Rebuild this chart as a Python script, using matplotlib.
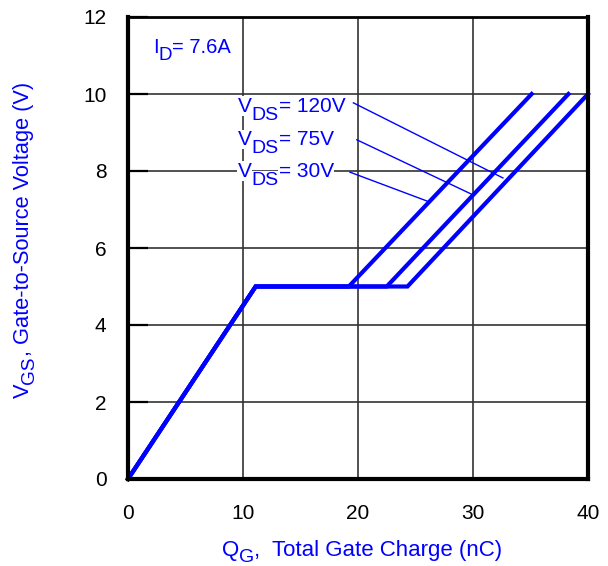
import matplotlib
matplotlib.use("Agg")
import matplotlib.pyplot as plt
from matplotlib.transforms import IdentityTransform
import math

plt.rcParams["font.family"] = "Liberation Sans"

# gate charge curves: (Qg, Vgs) corner points per Vds
qg_120 = [0, 11.1, 19.2, 35.1]
vgs_120 = [0, 5, 5, 10]
qg_75 = [0, 11.1, 22.5, 38.3]
vgs_75 = [0, 5, 5, 10]
qg_30 = [0, 11.1, 24.3, 40.0]
vgs_30 = [0, 5, 5, 10]

labels = ["120V", "75V", "30V"]
label_pos = [(9.55, 9.54), (9.55, 8.675), (9.55, 7.85)]
leader_start = [(19.6, 9.77), (19.9, 8.81), (19.3, 7.97)]
leader_end = [(32.6, 7.82), (30.0, 7.38), (26.0, 7.22)]

xticks = [0, 10, 20, 30, 40]
yticks = [0, 2, 4, 6, 8, 10, 12]

blue = "#0000ff"


def rich_text(fig, x, y, pieces, rotation=0, color=blue, bg=False):
    # pieces: (text, fontsize, drop in px below baseline); x, y in display px
    renderer = fig.canvas.get_renderer()
    a = math.radians(rotation)
    ux, uy = math.cos(a), math.sin(a)
    dx, dy = math.sin(a), -math.cos(a)
    pos = 0.0
    for s, size, drop in pieces:
        px = x + ux * pos + dx * drop
        py = y + uy * pos + dy * drop
        kw = {}
        if bg:
            kw["bbox"] = dict(facecolor="white", edgecolor="none", pad=0.3)
        fig.text(px, py, s, transform=IdentityTransform(), fontsize=size,
                 color=color, ha="left", va="baseline", rotation=rotation,
                 rotation_mode="anchor", zorder=5, **kw)
        probe = fig.text(0, 0, s, transform=IdentityTransform(), fontsize=size)
        pos += probe.get_window_extent(renderer).width
        probe.remove()


fig = plt.figure(figsize=(6.08, 5.66), dpi=100)
ax = fig.add_axes([128 / 608, 87 / 566, 460 / 608, 462 / 566])

for q, v in [(qg_120, vgs_120), (qg_75, vgs_75), (qg_30, vgs_30)]:
    ax.plot(q, v, color=blue, lw=3, solid_joinstyle="miter", zorder=4, clip_on=False)

for (sx, sy), (ex, ey) in zip(leader_start, leader_end):
    ax.plot([sx, ex], [sy, ey], color=blue, lw=1, zorder=3)

ax.set_xlim(0, 40)
ax.set_ylim(0, 12)
ax.set_xticks(xticks)
ax.set_yticks(yticks)
ax.grid(True, color="#333333", lw=1.2)
ax.set_axisbelow(True)
ax.tick_params(axis="x", length=0, labelsize=15, pad=18)
ax.tick_params(axis="y", direction="in", length=14.5, width=1.6, labelsize=15, pad=15.5)
for s in ax.spines.values():
    s.set_linewidth(3)
    s.set_zorder(6)
ax.spines["top"].set_linewidth(2)

fig.canvas.draw()
to_px = ax.transData.transform

# curve labels
for lab, (tx, ty) in zip(labels, label_pos):
    px, py = to_px((tx, ty))
    rich_text(fig, px, py, [("V", 15, 0), ("DS", 14, 8), ("= " + lab, 15, 0)], bg=True)

px, py = to_px((2.2, 11.06))
rich_text(fig, px, py, [("I", 14.5, 0), ("D", 13.5, 6.7), ("= 7.6A", 14.5, 0)])

# axis labels
rich_text(fig, 222, 10, [("Q", 16, 0), ("G", 14, 6.5), (",  Total Gate Charge (nC)", 16, 0)])
rich_text(fig, 29, 566 - 398, [("V", 15.7, 0), ("GS", 13.7, 5), (", Gate-to-Source Voltage (V)", 15.7, 0)],
          rotation=90)

fig.savefig("out.png", dpi=100)
